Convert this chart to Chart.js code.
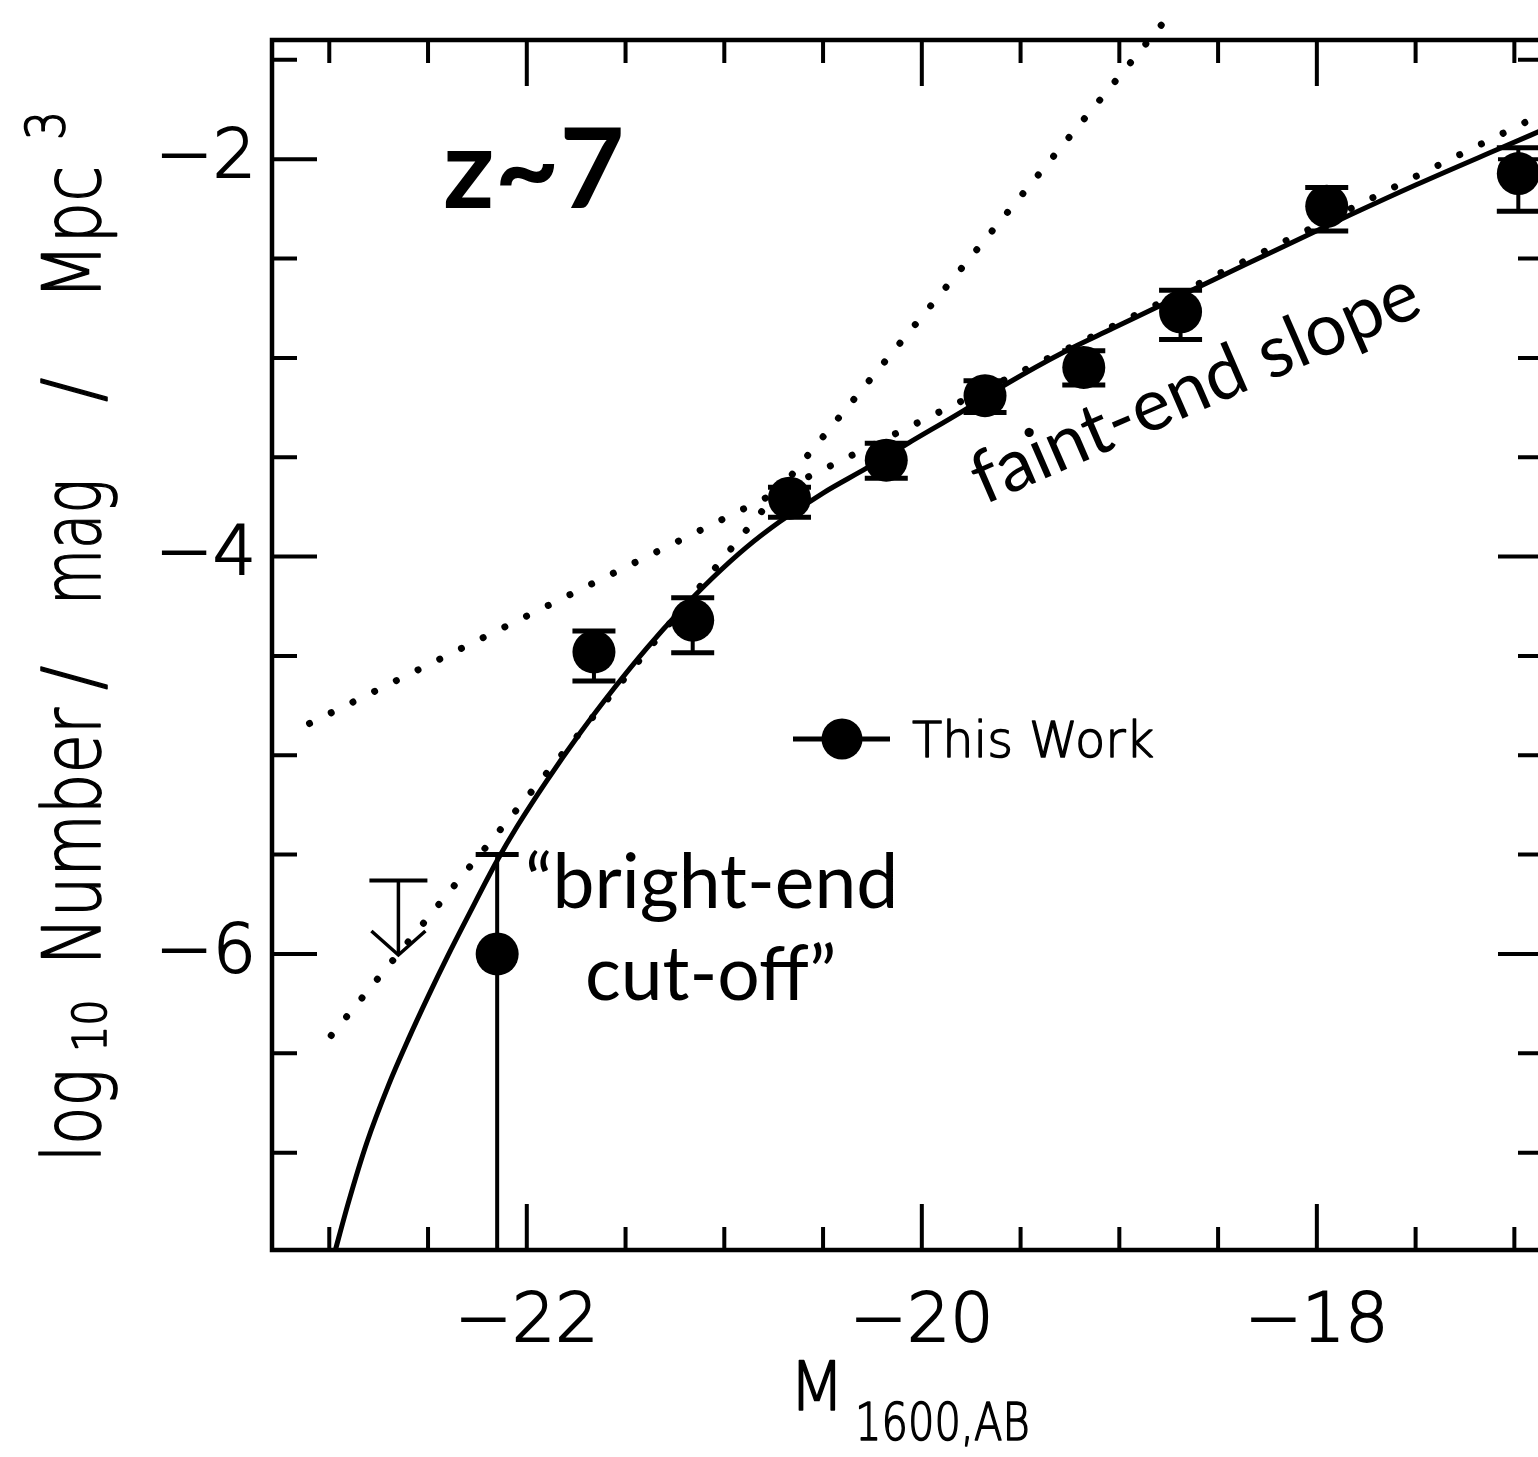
<!DOCTYPE html>
<html><head><meta charset="utf-8">
<script src="https://cdn.jsdelivr.net/npm/chart.js@4.4.1/dist/chart.umd.min.js"></script>
<style>
html,body{margin:0;padding:0;overflow:hidden;background:#fff;width:1538px;height:1457px;}
canvas{display:block;}
</style></head><body>
<canvas id="c" width="1600" height="1457"></canvas>
<script>
// ---- data ----
const magBins  = [-22.15, -21.66, -21.16, -20.67, -20.18, -19.68, -19.18, -18.69, -17.95, -16.98];
const logPhi   = [-6.00, -4.48, -4.32, -3.706, -3.515, -3.19, -3.048, -2.768, -2.237, -2.072];
const errUp    = [0.50, 0.106, 0.113, 0.055, 0.086, 0.075, 0.084, 0.109, 0.094, 0.13];
const errDown  = [1.60, 0.146, 0.164, 0.096, 0.091, 0.085, 0.089, 0.139, 0.124, 0.19];

const limitMag    = [-22.65];
const limitLogPhi = [-5.63];

const fitMag    = [-22.98,-22.90,-22.81,-22.70,-22.60,-22.50,-22.40,-22.30,-22.15,-22.05,-21.90,-21.73,-21.56,-21.39,-21.23,-21.06,-20.89,-20.72,-20.50,-20.28,-20.07,-19.78,-19.57,-19.28,-19.03,-18.80,-18.53,-18.34,-17.83,-17.50,-17.06,-16.85];
const fitLogPhi = [-7.53,-7.24,-6.95,-6.66,-6.43,-6.215,-6.01,-5.815,-5.53,-5.36,-5.13,-4.888,-4.665,-4.458,-4.28,-4.108,-3.955,-3.825,-3.68,-3.555,-3.43,-3.26,-3.13,-2.97,-2.85,-2.74,-2.61,-2.52,-2.28,-2.13,-1.94,-1.85];

const faintMag    = [-23.10, -16.855];
const faintLogPhi = [-4.84, -1.77];
const brightMag    = [-22.99, -18.75];
const brightLogPhi = [-6.41, -1.28];

const xTickValues = [-23,-22.5,-22,-21.5,-21,-20.5,-20,-19.5,-19,-18.5,-18,-17.5,-17];
const xTickLabels = [-22, -20, -18];
const yTickValues = [-7,-6.5,-6,-5.5,-5,-4.5,-4,-3.5,-3,-2.5,-2,-1.5];
const yTickLabels = [-2, -4, -6];

const MINUS = '\u2212';
const pts = (xs, ys) => xs.map((v, i) => ({x: v, y: ys[i]}));

// ---- plugins ----
const errorBars = {
  id: 'errorBars',
  beforeDatasetsDraw(chart) {
    const {ctx, chartArea: a, scales: {x, y}} = chart;
    ctx.save();
    ctx.beginPath(); ctx.rect(a.left, a.top, a.right - a.left, a.bottom - a.top); ctx.clip();
    ctx.strokeStyle = '#000'; ctx.lineCap = 'butt';
    magBins.forEach((m, i) => {
      const px = x.getPixelForValue(m);
      const hi = y.getPixelForValue(logPhi[i] + errUp[i]);
      const lo = y.getPixelForValue(logPhi[i] - errDown[i]);
      ctx.lineWidth = 4;
      ctx.beginPath(); ctx.moveTo(px, hi); ctx.lineTo(px, lo); ctx.stroke();
      ctx.lineWidth = 5;
      ctx.beginPath();
      ctx.moveTo(px - 21.5, hi); ctx.lineTo(px + 21.5, hi);
      ctx.moveTo(px - 21.5, lo); ctx.lineTo(px + 21.5, lo);
      ctx.stroke();
    });
    limitMag.forEach((m, i) => {
      const px = x.getPixelForValue(m);
      const top = y.getPixelForValue(limitLogPhi[i]);
      const tip = y.getPixelForValue(limitLogPhi[i] - 0.375);
      ctx.lineWidth = 4;
      ctx.beginPath(); ctx.moveTo(px - 29, top); ctx.lineTo(px + 29, top); ctx.stroke();
      ctx.lineWidth = 3.5;
      ctx.beginPath(); ctx.moveTo(px, top); ctx.lineTo(px, tip); ctx.stroke();
      ctx.beginPath(); ctx.moveTo(px - 27, tip - 24); ctx.lineTo(px, tip); ctx.lineTo(px + 27, tip - 24); ctx.stroke();
    });
    ctx.restore();
  }
};

const frame = {
  id: 'frame',
  afterDatasetsDraw(chart) {
    const {ctx, chartArea: a, scales: {x, y}} = chart;
    ctx.save();
    ctx.strokeStyle = '#000';
    ctx.lineWidth = 4;
    ctx.lineCap = 'butt';
    ctx.beginPath();
    xTickValues.forEach(v => {
      const px = x.getPixelForValue(v);
      const len = xTickLabels.includes(v) ? 46 : 23;
      ctx.moveTo(px, a.bottom); ctx.lineTo(px, a.bottom - len);
      ctx.moveTo(px, a.top); ctx.lineTo(px, a.top + len);
    });
    yTickValues.forEach(v => {
      const py = y.getPixelForValue(v);
      const len = yTickLabels.includes(v) ? 45 : 25;
      ctx.moveTo(a.left, py); ctx.lineTo(a.left + len, py);
      ctx.moveTo(a.right, py); ctx.lineTo(a.right - len, py);
    });
    ctx.stroke();
    ctx.lineWidth = 4.5;
    ctx.lineJoin = 'miter';
    ctx.strokeRect(a.left, a.top, a.right - a.left, a.bottom - a.top);
    ctx.restore();
  }
};

function drawThin(ctx, txt) {
  ctx.fillText(txt, 0, 0);
  ctx.strokeText(txt, 0, 0);
}
function rotText(ctx, txt, xBase, yStart, size, k, family) {
  ctx.save();
  ctx.font = '200 ' + size + 'px ' + family;
  ctx.translate(xBase, yStart);
  ctx.rotate(-Math.PI / 2);
  ctx.scale(k, 1);
  drawThin(ctx, txt);
  ctx.restore();
}
function hText(ctx, txt, x0, yBase, size, k, family) {
  ctx.save();
  ctx.font = '200 ' + size + 'px ' + family;
  ctx.translate(x0, yBase);
  ctx.scale(k, 1);
  drawThin(ctx, txt);
  ctx.restore();
}

const annotations = {
  id: 'annotations',
  afterDraw(chart) {
    const ctx = chart.ctx;
    ctx.save();
    ctx.fillStyle = '#000';
    ctx.strokeStyle = '#000';
    ctx.lineWidth = 1.6;
    ctx.lineJoin = 'round';
    ctx.textBaseline = 'alphabetic';
    ctx.textAlign = 'left';
    const HF = '"DejaVu Sans"';
    // y-axis title
    rotText(ctx, 'log', 100, 1162, 80, 0.78, HF);
    rotText(ctx, '10', 106, 1052, 46, 0.9, HF);
    rotText(ctx, 'Number', 100, 965, 80, 0.8, HF);
    rotText(ctx, '/', 100, 690, 80, 0.9, HF);
    rotText(ctx, 'mag', 100, 605, 80, 0.72, HF);
    rotText(ctx, '/', 100, 402, 80, 0.9, HF);
    rotText(ctx, 'Mpc', 100, 300, 80, 0.82, HF);
    rotText(ctx, '3', 64, 140, 54, 0.85, HF);
    // x-axis title
    hText(ctx, 'M', 789, 1410, 68, 0.95, HF);
    hText(ctx, '1600,AB', 855, 1440, 52, 0.8, HF);
    // legend
    ctx.lineWidth = 5;
    ctx.beginPath(); ctx.moveTo(793, 739); ctx.lineTo(890, 739); ctx.stroke();
    ctx.beginPath(); ctx.arc(842, 739, 20.5, 0, Math.PI * 2); ctx.fill();
    ctx.lineWidth = 1.4;
    hText(ctx, 'This Work', 912, 757, 50, 0.99, HF);
    // labels
    ctx.font = 'bold 112px Lato';
    ctx.fillText('z~7', 443, 208);
    ctx.font = '75px Lato';
    ctx.fillText('\u201Cbright-end', 525, 908);
    ctx.fillText('cut-off\u201D', 585, 1000);
    ctx.save();
    ctx.font = '73px Lato';
    ctx.translate(984, 505);
    ctx.rotate(-23.5 * Math.PI / 180);
    ctx.fillText('faint-end slope', 0, 0);
    ctx.restore();
    ctx.restore();
  }
};

new Chart(document.getElementById('c'), {
  type: 'scatter',
  data: {
    datasets: [
      { label: 'This Work', data: pts(magBins, logPhi), pointRadius: 21.5, pointHoverRadius: 21.5,
        backgroundColor: '#000', borderColor: '#000', borderWidth: 0, showLine: false, order: 0 },
      { label: 'fit', data: pts(fitMag, fitLogPhi), showLine: true, pointRadius: 0, borderColor: '#000',
        borderWidth: 5, cubicInterpolationMode: 'monotone', order: 1 },
      { label: 'faint', data: pts(faintMag, faintLogPhi), showLine: true, pointRadius: 0, borderColor: '#000',
        borderWidth: 7, borderDash: [0.01, 24.2], borderCapStyle: 'round', order: 2 },
      { label: 'bright', data: pts(brightMag, brightLogPhi), showLine: true, pointRadius: 0, borderColor: '#000',
        borderWidth: 7, borderDash: [0.01, 24.2], borderCapStyle: 'round', clip: false, order: 3 }
    ]
  },
  options: {
    responsive: false,
    animation: false,
    devicePixelRatio: 1,
    layout: { padding: { top: 40, right: 57, left: 0, bottom: 0 } },
    plugins: { legend: { display: false }, tooltip: { enabled: false } },
    scales: {
      x: {
        type: 'linear', min: -23.29, max: -16.855,
        grid: { display: false }, border: { display: false },
        afterBuildTicks: s => { s.ticks = xTickValues.map(v => ({ value: v })); },
        afterFit: s => { s.height = 207; s.paddingLeft = 0; s.paddingRight = 0; },
        ticks: {
          autoSkip: false, maxRotation: 0, minRotation: 0, padding: 25, color: '#000',
          textStrokeColor: '#000', textStrokeWidth: 1.8,
          font: { family: 'DejaVu Sans', size: 68, weight: '200' },
          callback: v => xTickLabels.includes(v) ? MINUS + Math.abs(v) : ''
        }
      },
      y: {
        type: 'linear', min: -7.49, max: -1.40,
        grid: { display: false }, border: { display: false },
        afterBuildTicks: s => { s.ticks = yTickValues.map(v => ({ value: v })); },
        afterFit: s => { s.width = 272; s.paddingTop = 0; s.paddingBottom = 0; },
        ticks: {
          autoSkip: false, padding: 8, color: '#000',
          textStrokeColor: '#000', textStrokeWidth: 1.8,
          font: { family: 'DejaVu Sans', size: 68, weight: '200' },
          callback: v => yTickLabels.includes(v) ? MINUS + Math.abs(v) : ''
        }
      }
    }
  },
  plugins: [errorBars, frame, annotations]
});
</script>
</body></html>
